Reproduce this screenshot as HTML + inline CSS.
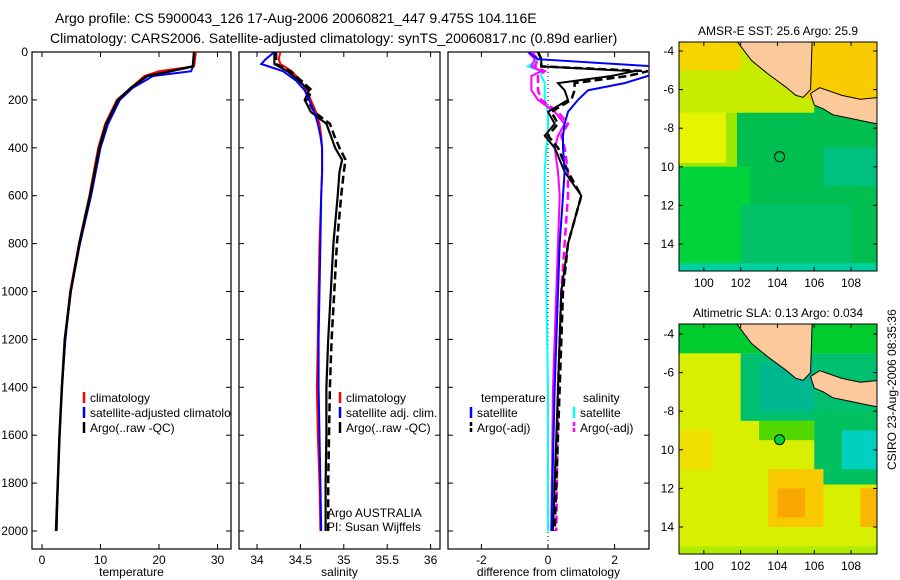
<!DOCTYPE html>
<html><head><meta charset="utf-8"><style>
body{margin:0;background:#fff;width:900px;height:580px;overflow:hidden}
svg{font-family:"Liberation Sans",sans-serif;display:block}
</style></head><body>
<svg id="fig" width="900" height="580" xmlns="http://www.w3.org/2000/svg">
<text x="55" y="23" font-size="14">Argo profile: CS 5900043_126 17-Aug-2006 20060821_447 9.475S 104.116E</text>
<text x="50" y="43" font-size="14">Climatology: CARS2006. Satellite-adjusted climatology: synTS_20060817.nc (0.89d earlier)</text>
<g id="maps"></g>
<g id="panels"></g>
<text x="0" y="0" font-size="12" transform="translate(896,470) rotate(-90)">CSIRO 23-Aug-2006 08:35:36</text>
</svg>
<script>
// ---- data ----
const tDepths=[0,60,80,100,150,200,300,400,600,800,1000,1200,1400,1600,1800,2000];
const tClim=[26.3,26.0,20,17.5,15.2,12.8,10.8,9.6,8.1,6.3,4.8,3.9,3.4,3.0,2.7,2.5];
const tSat=[26.0,25.8,25.5,19,15.5,13.3,11.3,10.0,8.4,6.5,4.9,4.0,3.4,3.0,2.7,2.5];
const tArgo=[26.0,25.8,22,18,15.2,13,11,9.8,8.2,6.4,4.9,3.9,3.4,3.0,2.7,2.4];
const sDepths=[0,30,50,80,120,160,200,250,300,350,400,450,500,600,800,1000,1200,1400,1600,1800,2000];
const sClim=[34.27,34.25,34.27,34.4,34.5,34.57,34.62,34.68,34.72,34.74,34.75,34.75,34.75,34.74,34.72,34.71,34.70,34.69,34.70,34.72,34.73];
const sSat=[34.2,34.1,34.05,34.3,34.45,34.55,34.6,34.66,34.7,34.73,34.75,34.75,34.75,34.74,34.73,34.72,34.71,34.71,34.72,34.73,34.74];
const sArgoRaw=[34.2,34.2,34.2,34.35,34.48,34.6,34.55,34.62,34.8,34.85,34.9,34.98,34.95,34.93,34.88,34.85,34.82,34.8,34.8,34.79,34.79];
const sArgoAdj=[34.22,34.22,34.22,34.38,34.51,34.63,34.58,34.66,34.84,34.89,34.95,35.02,35.0,34.97,34.92,34.89,34.86,34.84,34.83,34.82,34.82];
const dDepths=[0,30,60,80,100,130,160,200,250,300,350,400,500,600,800,1000,1400,2000];
const dTSat=[-0.6,-0.3,3.2,3.2,3.0,2.3,1.2,0.9,0.6,0.5,0.45,0.45,0.5,0.45,0.35,0.3,0.2,0.1];
const dTArgo=[-0.3,-0.2,-0.2,2.6,1.9,0.3,0.5,0.6,0,0.2,-0.1,0.2,0.5,1.0,0.6,0.4,0.3,0.15];
const dTArgoAdj=[-0.3,-0.2,-0.2,3.0,2.4,0.8,0.8,0.7,0.1,0.3,0,0.3,0.6,1.0,0.6,0.45,0.35,0.2];
const dSSat=[-0.5,-0.3,-0.6,-0.2,-0.2,-0.1,-0.1,-0.1,0,0,0,-0.05,-0.1,-0.1,-0.05,-0.05,0,0];
const dSArgo=[-0.6,-0.4,-0.5,-0.2,-0.5,-0.5,-0.5,-0.3,0.2,0.5,0.3,0.2,0.3,0.35,0.3,0.25,0.15,0.1];
const dSArgoAdj=[-0.5,-0.3,-0.4,-0.1,-0.3,-0.3,-0.3,-0.2,0.3,0.6,0.4,0.5,0.6,0.6,0.5,0.4,0.3,0.25];
const depthTicks=[0,200,400,600,800,1000,1200,1400,1600,1800,2000];
const tTicks=[0,10,20,30];
const sTicks=[34,34.5,35,35.5,36];
const dTicks=[-2,0,2];
const lonTicks=[100,102,104,106,108];
const latTicks=[-4,-6,-8,-10,-12,-14];
const latLabels=["-4","-6","-8","10","12","14"];

const NS="http://www.w3.org/2000/svg";
function mk(tag,attrs,parent){const e=document.createElementNS(NS,tag);for(const k in attrs)e.setAttribute(k,attrs[k]);parent.appendChild(e);return e;}
const P=document.getElementById('panels');
const yD=d=>52+d*0.2395;
const PT=52,PB=549;

function panel(name,x0,x1,xs,ticks,label,fmt){
  const g=mk('g',{},P);
  
  
  const r=mk('rect',{x:x0,y:PT,width:x1-x0,height:PB-PT,fill:'none',stroke:'#000','stroke-width':1.2},g);
  
  
  ticks.forEach(v=>{const x=xs(v);
    mk('line',{x1:x,x2:x,y1:PB,y2:PB-5,stroke:'#000'},g);
    mk('line',{x1:x,x2:x,y1:PT,y2:PT+5,stroke:'#000'},g);
    const t=mk('text',{x:x,y:PB+15,'font-size':12,'text-anchor':'middle'},g);t.textContent=fmt(v);
    
    });
  depthTicks.forEach(d=>{const y=yD(d);
    mk('line',{x1:x0,x2:x0+5,y1:y,y2:y,stroke:'#000'},g);
    mk('line',{x1:x1,x2:x1-5,y1:y,y2:y,stroke:'#000'},g);
    if(name==='temperature-panel'){const t=mk('text',{x:x0-4,y:y+4,'font-size':12,'text-anchor':'end'},g);t.textContent=d;
      
      }});
  const l=mk('text',{x:(x0+x1)/2,y:PB+27,'font-size':12,'text-anchor':'middle'},g);l.textContent=label;
  
  
  const cp=mk('clipPath',{id:'cp'+x0},g);mk('rect',{x:x0,y:PT,width:x1-x0,height:PB-PT},cp);
  const lg=mk('g',{'clip-path':'url(#cp'+x0+')'},g);
  return lg;
}
function line(g,name,xs,depths,vals,color,dash,w){
  const pts=vals.map((v,i)=>xs(v).toFixed(1)+','+yD(depths[i]).toFixed(1)).join(' ');
  const p=mk('polyline',{points:pts,fill:'none',stroke:color,'stroke-width':w||2,'stroke-dasharray':dash||'none'},g);
  
  
}
function leg(g,x,y,color,text,name,dash){
  const l=mk('line',{x1:x,x2:x,y1:y-10,y2:y+1,stroke:color,'stroke-width':2.5,'stroke-dasharray':dash||'none'},g);
  
  
  const t=mk('text',{x:x+6,y:y,'font-size':12},g);t.textContent=text;
  
  
}
// temperature
const xT=v=>42+v*5.85;
let g=panel('temperature-panel',32,231,xT,tTicks,'temperature',v=>v);
line(g,'temp-climatology',xT,tDepths,tClim,'#f00');
line(g,'temp-satellite',xT,tDepths,tSat,'#00f');
line(g,'temp-argo-raw',xT,tDepths,tArgo,'#000',null,2.5);
leg(g,84,402,'#f00','climatology','legend-climatology');
leg(g,84,417,'#00f','satellite-adjusted climatology','legend-satellite');
leg(g,84,432,'#000','Argo(..raw -QC)','legend-argo');
// salinity
const xS=v=>257+(v-34)*86.8;
g=panel('salinity-panel',239,440,xS,sTicks,'salinity',v=>v);
line(g,'sal-climatology',xS,sDepths,sClim,'#f00');
line(g,'sal-argo-raw',xS,sDepths,sArgoRaw,'#000',null,2.2);
line(g,'sal-argo-adj',xS,sDepths,sArgoAdj,'#000','8,4',2.5);
line(g,'sal-satellite',xS,sDepths,sSat,'#00f');
leg(g,340,402,'#f00','climatology','legend-climatology');
leg(g,340,417,'#00f','satellite adj. clim.','legend-satellite');
leg(g,340,432,'#000','Argo(..raw -QC)','legend-argo');
let t=mk('text',{x:327,y:517,'font-size':12},g);t.textContent='Argo AUSTRALIA';

t=mk('text',{x:327,y:531,'font-size':12},g);t.textContent='PI: Susan Wijffels';

// difference
const xDf=v=>548+v*33.3;
g=panel('difference-panel',448,649,xDf,dTicks,'difference from climatology',v=>v);
mk('line',{x1:548,x2:548,y1:PT,y2:PB,stroke:'#000','stroke-dasharray':'1,3'},g);
line(g,'diff-sal-satellite',xDf,dDepths,dSSat,'#0ff');
line(g,'diff-sal-argo',xDf,dDepths,dSArgo,'#f0f');
line(g,'diff-sal-argo-adj',xDf,dDepths,dSArgoAdj,'#f0f','8,4',2.5);
line(g,'diff-temp-argo',xDf,dDepths,dTArgo,'#000');
line(g,'diff-temp-argo-adj',xDf,dDepths,dTArgoAdj,'#000','8,4',2.5);
line(g,'diff-temp-satellite',xDf,dDepths,dTSat,'#00f');
t=mk('text',{x:481,y:402,'font-size':12},g);t.textContent='temperature';

t=mk('text',{x:583,y:402,'font-size':12},g);t.textContent='salinity';

leg(g,471,417,'#00f','satellite','legend-temp-satellite');
leg(g,471,432,'#000','Argo(-adj)','legend-temp-argo','4,2');
leg(g,574,417,'#0ff','satellite','legend-sal-satellite');
leg(g,574,432,'#f0f','Argo(-adj)','legend-sal-argo','4,2');

// ---- maps ----
const M=document.getElementById('maps');
function map(name,top,y4,title,cells,circleFill){
  const lx=l=>679+(l-98.65)*18.4, ly=l=>y4+(-4-l)*19.3;
  const g=mk('g',{},M);
  
  
  const cp=mk('clipPath',{id:'m'+top},g);mk('rect',{x:679,y:top,width:198,height:ly(-15.4)-top},cp);
  const c=mk('g',{'clip-path':'url(#m'+top+')'},g);
  cells.forEach(a=>{const r=mk('rect',{x:lx(a[0]),y:ly(a[1]),width:(a[2]-a[0])*18.4,height:(a[1]-a[3])*19.3,fill:a[4]},c);
    });
  // land: Sumatra and Java
  const sum=[[101.8,-3],[101.8,-3.5],[102.6,-4.5],[103.5,-5.2],[104.5,-5.9],[105,-6.3],[105.4,-6.4],[105.8,-6.0],[105.9,-3]];
  const jav=[[105.8,-6.2],[106,-6.8],[106.5,-7.0],[107,-7.3],[108,-7.5],[109,-7.7],[109.6,-7.8],[109.6,-6.4],[108.5,-6.5],[107.5,-6.3],[106.3,-5.9]];
  [sum,jav].forEach((s,i)=>{const p=mk('polygon',{points:s.map(q=>lx(q[0])+','+ly(q[1])).join(' '),fill:'#fcc99a',stroke:'#000','stroke-width':1},c);
    });
  const ci=mk('circle',{cx:lx(104.116),cy:ly(-9.475),r:5,fill:circleFill,stroke:'#000'},g);
  
  const fr=mk('rect',{x:679,y:top,width:198,height:ly(-15.4)-top,fill:'none',stroke:'#000'},g);
  
  const bot=ly(-15.4);
  lonTicks.forEach(l=>{const x=lx(l);mk('line',{x1:x,x2:x,y1:bot,y2:bot-4,stroke:'#000'},g);mk('line',{x1:x,x2:x,y1:top,y2:top+4,stroke:'#000'},g);
    const t=mk('text',{x:x,y:bot+16,'font-size':12,'text-anchor':'middle'},g);t.textContent=l;
    });
  latTicks.forEach((l,i)=>{const y=ly(l);mk('line',{x1:679,x2:683,y1:y,y2:y,stroke:'#000'},g);mk('line',{x1:877,x2:873,y1:y,y2:y,stroke:'#000'},g);
    const t=mk('text',{x:674,y:y+4,'font-size':12,'text-anchor':'end'},g);t.textContent=latLabels[i];
    });
  const tt=mk('text',{x:778,y:top-7,'font-size':12,'text-anchor':'middle'},g);tt.textContent=title;
  
}
map('sst-map',42,51,'AMSR-E SST: 25.6 Argo: 25.9',[
 [98,-3,110,-16,'#00bf50'],
 [98,-3,101.8,-10,'#9ee800'],
 [98,-7,101.2,-9.8,'#e6f400'],
 [98,-3,106,-7.2,'#c8ec00'],
 [98,-3,102,-5,'#f6d400'],
 [105.5,-3,110,-6.5,'#f8cc00'],
 [98,-10,102.5,-16,'#00d43a'],
 [102,-12,108,-15,'#00c068'],
 [106.5,-9,109.5,-11,'#00c080'],
 [98,-15,110,-16,'#00d0a0']],'none');
map('sla-map',324,334,'Altimetric SLA: 0.13 Argo: 0.034',[
 [98,-3,110,-16,'#d8f000'],
 [98,-3,110,-5,'#00cc30'],
 [102,-5,110,-8.5,'#00c070'],
 [103,-5.5,106,-8,'#00b890'],
 [103,-8.5,106,-9.5,'#50d800'],
 [106,-8,110,-11.8,'#00c060'],
 [107.5,-9,110,-11,'#00d0c0'],
 [98,-9,100.5,-11,'#f0e000'],
 [103.5,-11,106.5,-14,'#f8c800'],
 [104,-12,105.5,-13.5,'#f8a800'],
 [108.5,-12,110,-14,'#f8b800'],
 [98,-15,110,-16,'#b0ec00']],'#00d030');
</script>
</body></html>
